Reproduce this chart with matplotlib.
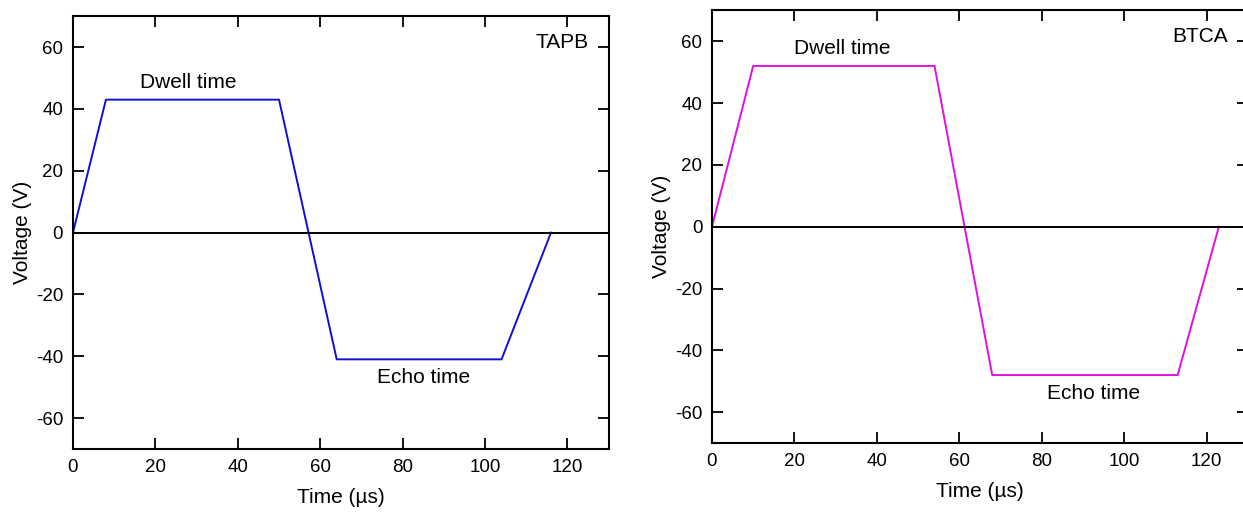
import matplotlib.pyplot as plt

plt.rcParams['font.family'] = ['Liberation Sans', 'DejaVu Sans']
plt.rcParams['axes.unicode_minus'] = False

# TAPB waveform (time in µs, voltage in V)
tapb_time = [0, 8, 50, 64, 104, 116]
tapb_volt = [0, 43, 43, -41, -41, 0]

# BTCA waveform
btca_time = [0, 10, 54, 68, 113, 123]
btca_volt = [0, 52, 52, -48, -48, 0]

x_ticks = [0, 20, 40, 60, 80, 100, 120]
y_ticks = [-60, -40, -20, 0, 20, 40, 60]

panels = [
    dict(t=tapb_time, v=tapb_volt, color='#1010d0', name='TAPB',
         dwell=(28, 48.5), echo=(85, -47), rect=[0.0587, 0.1265, 0.431, 0.842]),
    dict(t=btca_time, v=btca_volt, color='#e010e0', name='BTCA',
         dwell=(31.5, 57.5), echo=(92.5, -54), rect=[0.5728, 0.138, 0.431, 0.842]),
]

fig = plt.figure(figsize=(12.43, 5.14), dpi=100)

for p in panels:
    ax = fig.add_axes(p['rect'])
    ax.plot(p['t'], p['v'], color=p['color'], linewidth=1.4)
    ax.axhline(0, color='black', linewidth=1.4)

    ax.set_xlim(0, 130)
    ax.set_ylim(-70, 70)
    ax.set_xticks(x_ticks)
    ax.set_yticks(y_ticks)
    ax.tick_params(direction='in', top=True, right=True, length=8, width=1.3,
                   labelsize=13.5, pad=7)
    for s in ax.spines.values():
        s.set_linewidth(1.5)

    ax.set_xlabel('Time (µs)', fontsize=15, labelpad=9)
    ax.set_ylabel('Voltage (V)', fontsize=15, labelpad=3)

    ax.text(p['dwell'][0], p['dwell'][1], 'Dwell time', fontsize=15,
            ha='center', va='center')
    ax.text(p['echo'][0], p['echo'][1], 'Echo time', fontsize=15,
            ha='center', va='center')
    ax.text(0.963, 0.94, p['name'], transform=ax.transAxes, fontsize=15,
            ha='right', va='center')

fig.savefig('out.png', dpi=100)
